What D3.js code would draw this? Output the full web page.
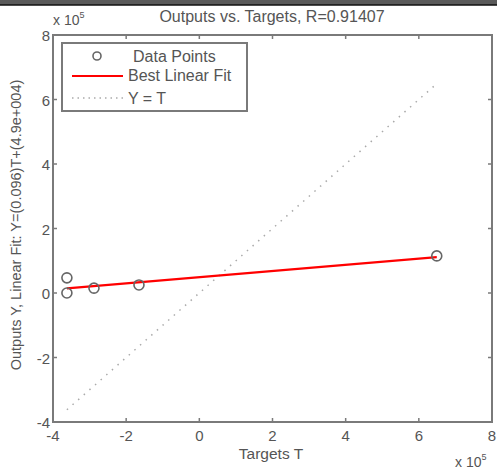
<!DOCTYPE html>
<html>
<head>
<meta charset="utf-8">
<script src="https://d3js.org/d3.v7.min.js"></script>
<style>
  body { margin: 0; background: #fff; }
  text { font-family: "Liberation Sans", Arial, sans-serif; fill: #555; }
</style>
</head>
<body>
<div id="chart"></div>
<script>
// values in units of 1e5
var targets = [-3.62, -3.62, -2.88, -1.65, 6.49];
var outputs = [0.47, 0.0, 0.15, 0.25, 1.15];
var fitSlope = 0.096, fitIntercept = 0.49;
var xTicks = [-4, -2, 0, 2, 4, 6, 8];
var yTicks = [-4, -2, 0, 2, 4, 6, 8];

var width = 497, height = 469;
var pLeft = 53, pRight = 492, pTop = 35, pBottom = 422;

var svg = d3.select("#chart").append("svg")
    .attr("width", width).attr("height", height);

// dark strip at top of the screenshot
svg.append("rect").attr("x", 0).attr("y", 0).attr("width", width).attr("height", 5).attr("fill", "#5a5a5a");
svg.append("line").attr("x1", 0).attr("x2", width).attr("y1", 5).attr("y2", 5).attr("stroke", "#111").attr("stroke-width", 1.5);

var x = d3.scaleLinear().domain([-4, 8]).range([pLeft, pRight]);
var y = d3.scaleLinear().domain([-4, 8]).range([pBottom, pTop]);

var axisColor = "#7a7a7a";

// ticks on all four sides, pointing inward
var tickLen = 4;
xTicks.forEach(function(t) {
  svg.append("line").attr("x1", x(t)).attr("x2", x(t)).attr("y1", pBottom).attr("y2", pBottom - tickLen).attr("stroke", axisColor).attr("stroke-width", 1.5);
  svg.append("line").attr("x1", x(t)).attr("x2", x(t)).attr("y1", pTop).attr("y2", pTop + tickLen).attr("stroke", axisColor).attr("stroke-width", 1.5);
  svg.append("text").attr("x", x(t)).attr("y", pBottom + 19).attr("text-anchor", "middle").attr("font-size", 15).text(t);
});
yTicks.forEach(function(t) {
  svg.append("line").attr("x1", pLeft).attr("x2", pLeft + tickLen).attr("y1", y(t)).attr("y2", y(t)).attr("stroke", axisColor).attr("stroke-width", 1.5);
  svg.append("line").attr("x1", pRight).attr("x2", pRight - tickLen).attr("y1", y(t)).attr("y2", y(t)).attr("stroke", axisColor).attr("stroke-width", 1.5);
  svg.append("text").attr("x", pLeft - 3).attr("y", y(t) + 6).attr("text-anchor", "end").attr("font-size", 15).text(t);
});

// Y = T dotted line
var tExt = d3.extent(targets);
svg.append("line")
    .attr("x1", x(tExt[0])).attr("y1", y(tExt[0]))
    .attr("x2", x(tExt[1])).attr("y2", y(tExt[1]))
    .attr("stroke", "#aaa").attr("stroke-width", 1.5).attr("stroke-dasharray", "1.5,6");

// best linear fit
svg.append("line")
    .attr("x1", x(tExt[0])).attr("y1", y(fitSlope * tExt[0] + fitIntercept))
    .attr("x2", x(tExt[1])).attr("y2", y(fitSlope * tExt[1] + fitIntercept))
    .attr("stroke", "#f00").attr("stroke-width", 2.2);

// data points
svg.selectAll("circle.pt").data(d3.zip(targets, outputs)).enter().append("circle")
    .attr("class", "pt")
    .attr("cx", function(d) { return x(d[0]); })
    .attr("cy", function(d) { return y(d[1]); })
    .attr("r", 5).attr("fill", "none").attr("stroke", "#666").attr("stroke-width", 1.6);

// frame
svg.append("rect").attr("x", pLeft).attr("y", pTop).attr("width", pRight - pLeft).attr("height", pBottom - pTop)
    .attr("fill", "none").attr("stroke", axisColor).attr("stroke-width", 2);

// legend
var lg = svg.append("g");
lg.append("rect").attr("x", 62).attr("y", 43).attr("width", 185).attr("height", 68)
    .attr("fill", "#fff").attr("stroke", axisColor).attr("stroke-width", 2);
lg.append("circle").attr("cx", 97).attr("cy", 56).attr("r", 4).attr("fill", "none").attr("stroke", "#666").attr("stroke-width", 1.6);
lg.append("text").attr("x", 133).attr("y", 62).attr("font-size", 16).text("Data Points");
lg.append("line").attr("x1", 72).attr("x2", 123).attr("y1", 76).attr("y2", 76).attr("stroke", "#f00").attr("stroke-width", 2);
lg.append("text").attr("x", 128).attr("y", 81).attr("font-size", 16).text("Best Linear Fit");
lg.append("line").attr("x1", 72).attr("x2", 123).attr("y1", 98).attr("y2", 98).attr("stroke", "#aaa").attr("stroke-width", 1.5).attr("stroke-dasharray", "1.5,4");
lg.append("text").attr("x", 128).attr("y", 104).attr("font-size", 16).text("Y = T");

// title and labels
svg.append("text").attr("x", 272).attr("y", 22).attr("text-anchor", "middle").attr("font-size", 16)
    .text("Outputs vs. Targets, R=0.91407");
svg.append("text").attr("x", 271).attr("y", 459).attr("text-anchor", "middle").attr("font-size", 15.5)
    .text("Targets T");
svg.append("text").attr("transform", "translate(21,225) rotate(-90)")
    .attr("text-anchor", "middle").attr("font-size", 14.5)
    .text("Outputs Y,  Linear Fit: Y=(0.096)T+(4.9e+004)");

// exponent labels
function expLabel(px, py) {
  var t = svg.append("text").attr("x", px).attr("y", py).attr("font-size", 14);
  t.append("tspan").text("x 10");
  t.append("tspan").attr("dy", -7).attr("font-size", 9).text("5");
}
expLabel(53, 25);
expLabel(455, 467);
</script>
</body>
</html>
